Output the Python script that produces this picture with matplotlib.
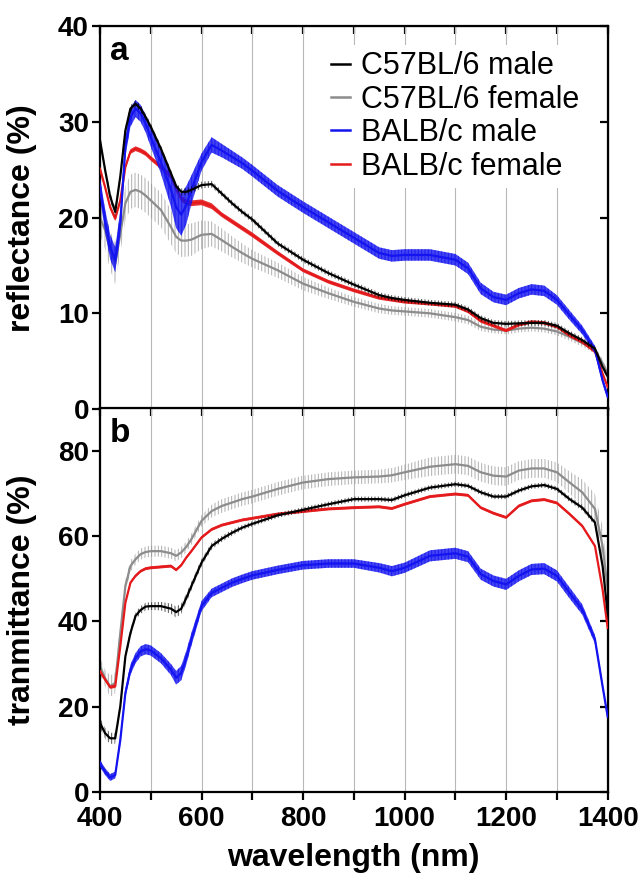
import matplotlib
matplotlib.use("Agg")
import matplotlib.pyplot as plt
from matplotlib.lines import Line2D
import numpy as np

plt.rcParams['font.family'] = ['Liberation Sans', 'DejaVu Sans']
plt.rcParams['hatch.linewidth'] = 0.7

# wavelength grid (nm)
wl = [400, 410, 420, 430, 440, 450, 460, 470, 480, 490, 500, 520, 540, 550, 560, 570,
      580, 600, 620, 640, 660, 680, 700, 750, 800, 850, 900, 950, 975, 1000, 1050,
      1100, 1125, 1150, 1175, 1200, 1225, 1250, 1275, 1300, 1325, 1350, 1375, 1390, 1400]

# panel a: reflectance (%) mean and SD
refl_c57_m = [28.1, 25.0, 22.2, 20.6, 24.3, 29.1, 31.4, 31.9, 31.4, 30.5, 29.5, 27.2, 24.6, 23.3, 22.7, 22.7,
              22.9, 23.4, 23.5, 22.5, 21.5, 20.6, 19.8, 17.3, 15.6, 14.2, 13.0, 11.9, 11.6, 11.4, 11.1,
              10.9, 10.4, 9.5, 9.0, 8.9, 8.95, 9.0, 9.0, 8.7, 7.9, 7.2, 6.3, 4.4, 3.4]
refl_c57_m_sd = [0.4, 0.45, 0.5, 0.5, 0.45, 0.4, 0.35, 0.35, 0.35, 0.35, 0.35, 0.35, 0.35, 0.35, 0.35, 0.35,
                 0.35, 0.35, 0.35, 0.3, 0.3, 0.3, 0.3, 0.3, 0.3, 0.3, 0.3, 0.3, 0.3, 0.3, 0.3,
                 0.3, 0.3, 0.3, 0.3, 0.3, 0.3, 0.3, 0.3, 0.3, 0.3, 0.3, 0.3, 0.3, 0.3]
refl_c57_f = [20.0, 18.7, 16.6, 15.2, 18.3, 21.5, 22.7, 22.9, 22.7, 22.3, 21.8, 20.8, 19.0, 18.0, 17.6, 17.6,
              17.7, 18.2, 18.3, 17.65, 16.95, 16.3, 15.7, 14.5, 13.1, 12.1, 11.2, 10.5, 10.3, 10.2, 10.0,
              9.6, 9.3, 8.6, 8.3, 8.2, 8.4, 8.5, 8.4, 8.1, 7.55, 6.9, 6.2, 4.8, 3.7]
refl_c57_f_sd = [1.8, 2.0, 2.0, 2.2, 2.0, 1.8, 1.8, 1.8, 1.8, 1.8, 1.8, 1.8, 1.8, 1.7, 1.7, 1.7,
                 1.7, 1.5, 1.3, 1.2, 1.1, 1.0, 0.9, 0.8, 0.7, 0.6, 0.5, 0.5, 0.45, 0.45, 0.45,
                 0.45, 0.45, 0.45, 0.4, 0.4, 0.4, 0.4, 0.4, 0.4, 0.4, 0.4, 0.4, 0.4, 0.4]
refl_balb_m = [23.2, 19.7, 16.95, 15.6, 19.4, 27.4, 30.5, 31.4, 30.9, 29.8, 28.4, 25.8, 22.9, 21.1, 20.3, 21.3,
               22.9, 25.8, 27.6, 27.0, 26.35, 25.7, 24.9, 22.8, 21.1, 19.5, 17.9, 16.3, 16.0, 16.1, 16.1,
               15.6, 14.7, 12.6, 11.7, 11.4, 12.1, 12.5, 12.35, 11.4, 9.8, 8.25, 6.2, 3.0, 1.3]
refl_balb_m_sd = [1.0, 1.2, 1.3, 1.3, 1.3, 1.0, 1.0, 0.9, 0.9, 0.9, 1.0, 1.2, 1.8, 2.2, 2.2, 2.0,
                  1.5, 0.9, 0.8, 0.7, 0.65, 0.6, 0.6, 0.6, 0.6, 0.6, 0.6, 0.6, 0.6, 0.6, 0.6,
                  0.6, 0.6, 0.6, 0.55, 0.55, 0.55, 0.55, 0.55, 0.5, 0.5, 0.45, 0.4, 0.35, 0.3]
refl_balb_f = [25.1, 23.2, 21.1, 19.9, 21.8, 25.3, 26.9, 27.2, 27.0, 26.7, 26.2, 25.3, 24.3, 23.0, 22.0, 21.6,
               21.5, 21.6, 21.2, 20.3, 19.6, 18.9, 18.2, 16.3, 14.5, 13.3, 12.4, 11.6, 11.4, 11.2, 11.0,
               10.75, 10.2, 9.2, 8.7, 8.2, 8.8, 9.1, 9.0, 8.6, 7.7, 7.0, 6.0, 3.7, 2.3]
refl_balb_f_sd = [0.25, 0.25, 0.25, 0.25, 0.25, 0.25, 0.25, 0.25, 0.25, 0.25, 0.25, 0.25, 0.25, 0.3, 0.3, 0.3,
                  0.3, 0.3, 0.3, 0.25, 0.25, 0.25, 0.25, 0.22, 0.2, 0.2, 0.2, 0.18, 0.18, 0.18, 0.18,
                  0.18, 0.18, 0.18, 0.18, 0.18, 0.18, 0.18, 0.18, 0.18, 0.18, 0.18, 0.18, 0.18, 0.18]

# panel b: transmittance (%) mean and SD
tran_c57_m = [16.2, 13.8, 12.6, 12.6, 20.1, 31.8, 37.3, 41.3, 42.7, 43.5, 43.6, 43.6, 43.0, 42.2, 43.0, 45.5,
              48.3, 53.8, 57.7, 59.4, 60.8, 62.0, 62.9, 64.9, 66.2, 67.5, 68.7, 68.7, 68.5, 69.6, 71.4,
              72.2, 71.8, 70.3, 69.3, 69.3, 70.7, 71.7, 72.0, 71.1, 68.7, 66.7, 63.2, 53.0, 42.0]
tran_c57_m_sd = [1.2, 1.3, 1.3, 1.3, 1.0, 0.9, 0.9, 0.9, 0.9, 0.9, 0.9, 1.0, 1.2, 1.3, 1.2, 1.1,
                 1.0, 0.9, 0.8, 0.7, 0.7, 0.6, 0.6, 0.6, 0.6, 0.6, 0.6, 0.6, 0.6, 0.6, 0.6,
                 0.6, 0.6, 0.6, 0.6, 0.6, 0.6, 0.6, 0.6, 0.6, 0.65, 0.7, 0.7, 0.8, 0.9]
tran_c57_f = [29.5, 26.7, 24.8, 25.6, 37.3, 48.3, 53.0, 54.6, 55.8, 56.3, 56.5, 56.5, 56.0, 55.4, 56.2, 57.5,
              59.3, 63.6, 65.9, 67.1, 67.9, 68.7, 69.3, 71.1, 72.6, 73.4, 73.8, 74.0, 74.3, 75.0, 76.3,
              76.9, 76.5, 75.0, 74.2, 74.0, 75.4, 75.9, 75.9, 75.0, 72.6, 70.3, 66.4, 57.7, 47.5]
tran_c57_f_sd = [2.0, 2.0, 2.5, 2.5, 2.0, 1.6, 1.3, 1.3, 1.3, 1.3, 1.3, 1.3, 1.3, 1.3, 1.3, 1.3,
                 1.3, 1.3, 1.5, 1.6, 1.6, 1.6, 1.6, 1.6, 1.6, 1.6, 1.6, 1.6, 1.7, 1.8, 2.2,
                 2.2, 2.2, 2.2, 2.2, 2.2, 2.2, 2.2, 2.2, 2.3, 2.6, 3.0, 3.5, 4.5, 5.0]
tran_balb_m = [6.7, 4.8, 3.4, 4.0, 12.2, 23.2, 28.7, 31.4, 33.0, 33.5, 33.2, 31.4, 28.7, 26.8, 27.9, 31.5,
               35.8, 43.6, 46.7, 47.9, 49.1, 50.0, 50.8, 52.1, 53.2, 53.6, 53.6, 52.6, 51.8, 52.6, 55.4,
               56.0, 55.2, 51.1, 49.5, 48.7, 50.7, 52.2, 52.4, 50.7, 46.7, 42.8, 35.8, 24.8, 17.7]
tran_balb_m_sd = [0.8, 0.8, 0.8, 0.8, 1.0, 1.0, 1.2, 1.2, 1.2, 1.2, 1.2, 1.2, 1.3, 1.6, 1.7, 1.6,
                  1.5, 1.2, 1.0, 1.0, 1.0, 1.0, 1.0, 1.0, 1.0, 1.0, 1.0, 1.1, 1.2, 1.2, 1.3,
                  1.3, 1.3, 1.3, 1.3, 1.3, 1.3, 1.3, 1.3, 1.3, 1.3, 1.2, 1.0, 0.8, 0.6]
tran_balb_f = [28.3, 26.4, 24.6, 24.8, 34.2, 44.4, 49.1, 50.7, 51.8, 52.4, 52.6, 52.8, 53.0, 52.1, 53.2, 55.0,
               56.5, 59.7, 61.6, 62.6, 63.2, 63.8, 64.2, 65.2, 65.8, 66.4, 66.7, 66.9, 66.5, 67.5, 69.3,
               69.9, 69.6, 66.7, 65.4, 64.4, 67.1, 68.3, 68.6, 67.8, 65.2, 62.4, 57.7, 47.5, 38.5]
tran_balb_f_sd = [0.4] * 4 + [0.35] * 41

labels = ['C57BL/6 male', 'C57BL/6 female', 'BALB/c male', 'BALB/c female']
colors = ['black', '#8c8c8c', '#1414f0', '#e41a1c']

x = np.array(wl)
fig = plt.figure(figsize=(6.41, 8.74), dpi=100)
ax_a = fig.add_axes([0.156, 0.532, 0.792, 0.438])
ax_b = fig.add_axes([0.156, 0.0938, 0.792, 0.439])


def band(ax, m, s, col, style, z):
    m = np.array(m)
    s = np.array(s)
    if style == 'hatch':
        ax.fill_between(x, m - s, m + s, facecolor='none', edgecolor=col, hatch='|||||',
                        lw=0, alpha=0.7, zorder=z)
    elif style == 'dense':
        ax.fill_between(x, m - s, m + s, facecolor=col, edgecolor=col, hatch='|||||',
                        lw=0, alpha=0.8, zorder=z)
    else:
        ax.fill_between(x, m - s, m + s, facecolor=col, lw=0, alpha=0.9, zorder=z)
    ax.plot(x, m, color=col, lw=1.6, zorder=z + 0.5)


# draw order: gray, red, blue, black
band(ax_a, refl_c57_f, refl_c57_f_sd, colors[1], 'hatch', 2)
band(ax_a, refl_balb_f, refl_balb_f_sd, colors[3], 'solid', 3)
band(ax_a, refl_balb_m, refl_balb_m_sd, colors[2], 'dense', 4)
band(ax_a, refl_c57_m, refl_c57_m_sd, colors[0], 'hatch', 5)

band(ax_b, tran_c57_f, tran_c57_f_sd, colors[1], 'hatch', 2)
band(ax_b, tran_balb_f, tran_balb_f_sd, colors[3], 'solid', 3)
band(ax_b, tran_balb_m, tran_balb_m_sd, colors[2], 'dense', 4)
band(ax_b, tran_c57_m, tran_c57_m_sd, colors[0], 'hatch', 5)

for ax, ylim, yt in [(ax_a, 40, [0, 10, 20, 30, 40]), (ax_b, 90, [0, 20, 40, 60, 80])]:
    ax.set_xlim(400, 1400)
    ax.set_ylim(0, ylim)
    ax.set_xticks([400, 600, 800, 1000, 1200, 1400])
    ax.set_xticks([500, 700, 900, 1100, 1300], minor=True)
    ax.set_yticks(yt)
    ax.grid(True, axis='x', which='both', color='#b8b8b8', lw=0.8)
    ax.set_axisbelow(True)
    for sp in ax.spines.values():
        sp.set_linewidth(1.6)
    ax.tick_params(axis='y', which='major', direction='out', length=6, width=1.6,
                   labelsize=20, pad=2, right=False)
    for t in ax.get_yticklabels():
        t.set_fontweight('bold')
    ry = ax.secondary_yaxis('right')
    ry.set_yticks(yt)
    ry.tick_params(direction='in', length=6, width=1.6, labelright=False)
    tx = ax.secondary_xaxis('top')
    tx.set_xticks(np.arange(400, 1401, 100))
    tx.tick_params(direction='in', length=6, width=1.6, labeltop=False)

ax_a.tick_params(axis='x', which='both', bottom=False, labelbottom=False)
ax_b.tick_params(axis='x', which='both', direction='out', length=6, width=1.6,
                 labelsize=20, pad=4)
for t in ax_b.get_xticklabels():
    t.set_fontweight('bold')

ax_a.set_ylabel('reflectance (%)', fontsize=23, fontweight='bold', labelpad=6)
ax_b.set_ylabel('tranmittance (%)', fontsize=23, fontweight='bold', labelpad=6)
ax_b.set_xlabel('wavelength (nm)', fontsize=23, fontweight='bold', labelpad=8)
ax_a.yaxis.set_label_coords(-0.125, 0.5)
ax_b.yaxis.set_label_coords(-0.125, 0.5)

ax_a.text(0.02, 0.975, 'a', transform=ax_a.transAxes, fontsize=24, fontweight='bold',
          va='top', ha='left', zorder=10)
ax_b.text(0.02, 0.975, 'b', transform=ax_b.transAxes, fontsize=24, fontweight='bold',
          va='top', ha='left', zorder=10)

handles = [Line2D([], [], color=c, lw=1.8) for c in colors]
leg = ax_a.legend(handles, labels, loc='upper left', bbox_to_anchor=(0.443, 0.95),
                  fontsize=22, frameon=True, handlelength=0.62, handletextpad=0.36,
                  labelspacing=0.11, borderpad=0.2, borderaxespad=0, fancybox=False)
leg.get_frame().set_facecolor('white')
leg.get_frame().set_edgecolor('none')
leg.get_frame().set_alpha(1)
leg.set_zorder(8)

fig.savefig('out.png', dpi=100)
